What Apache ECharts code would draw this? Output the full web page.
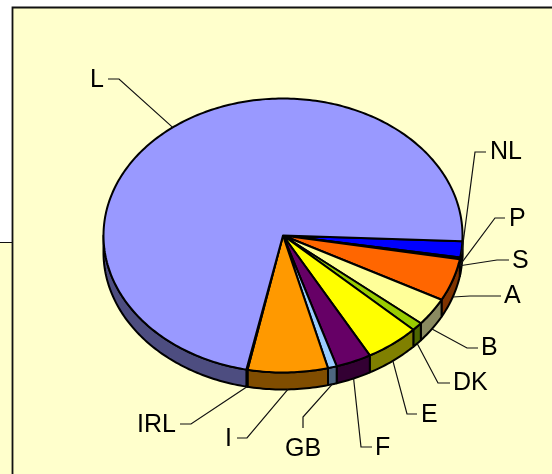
<!DOCTYPE html>
<html><head><meta charset="utf-8">
<style>html,body{margin:0;padding:0;background:#fff}#c{width:552px;height:474px}</style>
<script src="https://cdn.jsdelivr.net/npm/echarts@6/dist/echarts.min.js"></script>
</head><body><div id="c"></div>
<script>
const categories = ['NL','P','S','A','B','DK','E','F','GB','I','IRL','L'];
const values = [1.9,0.1,0.1,5.0,3.3,1.0,4.9,3.2,0.8,7.2,0.1,72.4];
const topColors = ['#0000FF','#660066','#FFCC99','#FF6600','#FFFF99','#99CC00','#FFFF00','#660066','#99CCFF','#FF9900','#CC99FF','#9999FF'];
const sideColors = ['#000080','#330033','#80664D','#803300','#8A8A60','#4D6600','#808000','#330033','#4D6680','#804D00','#664D80','#4D4D80'];

// Layout only: pie geometry in pixels and where each callout sits.
const PIE = {cx:283, cy:235.5, rx:179.5, ry:137, depth:17, startDeg:2.4};
const callouts = {
  NL:{dy:-12, elbow:[475,152], end:[486,152], text:[490,152,'left']},
  P:{dy:-10, elbow:[495,218], end:[505,218], text:[509,219,'left']},
  S:{dy:-10, elbow:[497,260], end:[509,260], text:[512,261,'left']},
  A:{dy:0, elbow:[470,296], end:[501,296], text:[504,296,'left']},
  B:{dy:0, elbow:[467,348], end:[478,348], text:[481,348,'left']},
  DK:{dy:0, elbow:[438,383], end:[450,383], text:[453,383,'left']},
  E:{dy:0, elbow:[407,414], end:[417,414], text:[421,415,'left']},
  F:{dy:0, elbow:[361,447], end:[372,447], text:[375,448,'left']},
  GB:{dy:0, elbow:[303,417], end:[303,428], text:[303,449,'center']},
  I:{dy:0, elbow:[247,438], end:[237,438], text:[232,439,'right']},
  IRL:{dy:0, elbow:[191,424], end:[180,424], text:[176,425,'right']},
  L:{dy:0, elbow:[119,79], end:[108,79], text:[104,80,'right']}
};

const total = values.reduce((a,b)=>a+b,0);
const spans = [];
let acc = PIE.startDeg;
values.forEach(v=>{const s=v/total*360; spans.push([acc,acc+s]); acc+=s;});
const onEllipse = deg => {
  const t = deg*Math.PI/180;
  return [PIE.cx+PIE.rx*Math.cos(t), PIE.cy+PIE.ry*Math.sin(t)];
};
const arc = (a,b) => {
  const pts=[], n=Math.max(1,Math.ceil(Math.abs(b-a)));
  for(let i=0;i<=n;i++) pts.push(onEllipse(a+(b-a)*i/n));
  return pts;
};
// Visible rim ranges: the front half of the ellipse (0..180, and 360..540 after wrapping).
const visible = (a,b) => {
  const out=[];
  [[0,180],[360,540]].forEach(([lo,hi])=>{
    const s=Math.max(a,lo), e=Math.min(b,hi);
    if(e>s) out.push([s,e]);
  });
  return out;
};
const seriesData = categories.map((c,i)=>({name:c,value:[i,values[i]]}));

const sideSeries = {
  type:'custom', coordinateSystem:'none', silent:true, z:2, data:seriesData,
  renderItem(p){
    const i=p.dataIndex, kids=[];
    visible(spans[i][0],spans[i][1]).forEach(([s,e])=>{
      const up=arc(s,e), down=up.slice().reverse().map(q=>[q[0],q[1]+PIE.depth]);
      kids.push({type:'polygon',shape:{points:up.concat(down)},
        style:{fill:sideColors[i],stroke:'#000',lineWidth:2,lineJoin:'round'}});
    });
    return {type:'group',children:kids};
  }
};
const topSeries = {
  type:'custom', coordinateSystem:'none', silent:true, z:3, data:seriesData,
  renderItem(p){
    const i=p.dataIndex;
    return {type:'polygon',shape:{points:[[PIE.cx,PIE.cy]].concat(arc(spans[i][0],spans[i][1]))},
      style:{fill:topColors[i],stroke:'#000',lineWidth:2,lineJoin:'round'}};
  }
};
const labelSeries = {
  type:'custom', coordinateSystem:'none', silent:true, z:4, data:seriesData,
  renderItem(p){
    const i=p.dataIndex, name=categories[i], c=callouts[name];
    const mid=((spans[i][0]+spans[i][1])/2)%360;
    const q=onEllipse(mid);
    const front=mid>0&&mid<180;
    const start=[q[0],q[1]+(front?PIE.depth+c.dy:0)];
    return {type:'group',children:[
      {type:'polyline',shape:{points:[start,c.elbow,c.end]},style:{fill:'none',stroke:'#111',lineWidth:1.2}},
      {type:'text',style:{x:c.text[0],y:c.text[1],text:name,align:c.text[2],verticalAlign:'middle',
        fill:'#000',font:'25px "Liberation Sans", Arial, sans-serif'}}
    ]};
  }
};

const chart = echarts.init(document.getElementById('c'),null,{renderer:'canvas'});
chart.setOption({
  animation:false,
  backgroundColor:'#fff',
  graphic:{elements:[
    {type:'rect',z:-2,shape:{x:-2,y:242.5,width:20,height:240},style:{fill:'#FFFFCC',stroke:'#111',lineWidth:1.2}},
    {type:'rect',z:-1,shape:{x:12.5,y:7.5,width:550,height:480},style:{fill:'#FFFFCC',stroke:'#111',lineWidth:1.8}}
  ]},
  series:[sideSeries,topSeries,labelSeries]
});
</script></body></html>
